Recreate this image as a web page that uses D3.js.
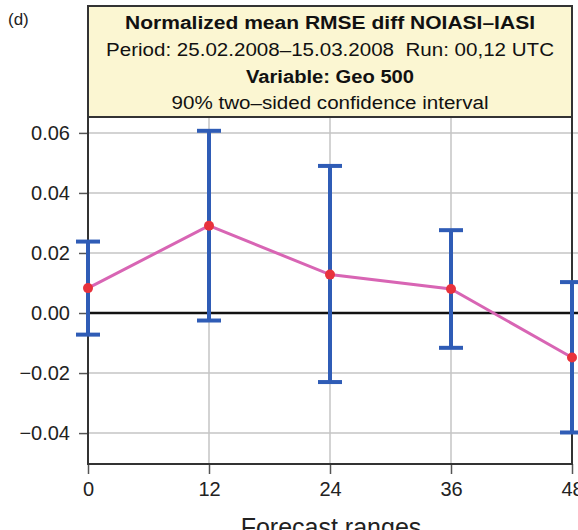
<!DOCTYPE html>
<html>
<head>
<meta charset="utf-8">
<script src="https://cdn.jsdelivr.net/npm/d3@7"></script>
<style>
  body { margin: 0; background: #fff; }
  svg { display: block; font-family: "Liberation Sans", Arial, sans-serif; }
</style>
</head>
<body>
<div id="chart"></div>
<script>
// forecast ranges (hours)
const ranges = [0, 12, 24, 36, 48];
const meanDiff = [0.0083, 0.0291, 0.0128, 0.0080, -0.0148];
const upper = [0.0238, 0.0607, 0.0490, 0.0276, 0.0103];
const lower = [-0.0072, -0.0025, -0.0230, -0.0116, -0.0398];
const yTicks = [-0.04, -0.02, 0.00, 0.02, 0.04, 0.06];
const titleLines = [
    "Normalized mean RMSE diff NOIASI\u2013IASI",
    "Period: 25.02.2008\u201315.03.2008  Run: 00,12 UTC",
    "Variable: Geo 500",
    "90% two\u2013sided confidence interval"
];

const width = 578, height = 530;
const plot = { left: 88, right: 572, top: 117, bottom: 464 };

const svg = d3.select("#chart").append("svg")
    .attr("width", width)
    .attr("height", height);

const x = d3.scaleLinear().domain([0, 48]).range([plot.left, plot.right]);
const y = d3.scaleLinear().domain([-0.0503, 0.0653]).range([plot.bottom, plot.top]);

// --- grid ---
svg.append("g")
    .selectAll("line")
    .data(yTicks)
    .join("line")
    .attr("x1", plot.left).attr("x2", width)
    .attr("y1", d => y(d)).attr("y2", d => y(d))
    .attr("stroke", "#c4c4c4")
    .attr("stroke-width", 1.5);

svg.append("g")
    .selectAll("line")
    .data(ranges.slice(1, -1))
    .join("line")
    .attr("x1", d => x(d)).attr("x2", d => x(d))
    .attr("y1", plot.top).attr("y2", plot.bottom)
    .attr("stroke", "#c4c4c4")
    .attr("stroke-width", 1.5);

// zero line
svg.append("line")
    .attr("x1", plot.left).attr("x2", width)
    .attr("y1", y(0)).attr("y2", y(0))
    .attr("stroke", "#111")
    .attr("stroke-width", 2.5);

// --- axes ---
const yAxis = d3.axisLeft(y)
    .tickValues(yTicks)
    .tickSize(9)
    .tickPadding(9)
    .tickFormat(d => d3.format(".2f")(d).replace("-", "\u2212"));

svg.append("g")
    .attr("transform", `translate(${plot.left},0)`)
    .call(yAxis)
    .call(g => g.select(".domain").remove())
    .call(g => g.selectAll("line").attr("stroke", "#555").attr("stroke-width", 1.5))
    .call(g => g.selectAll("text").attr("font-size", 20).attr("fill", "#222"));

const xAxis = d3.axisBottom(x)
    .tickValues(ranges)
    .tickSize(10)
    .tickPadding(8)
    .tickFormat(d3.format("d"));

svg.append("g")
    .attr("transform", `translate(0,${plot.bottom})`)
    .call(xAxis)
    .call(g => g.select(".domain").remove())
    .call(g => g.selectAll("line").attr("stroke", "#555").attr("stroke-width", 1.5))
    .call(g => g.selectAll("text").attr("font-size", 20).attr("fill", "#222"));

// frame (left, bottom, right)
svg.append("path")
    .attr("d", `M${plot.left},${plot.top}V${plot.bottom}H${plot.right}V${plot.top}`)
    .attr("fill", "none")
    .attr("stroke", "#333")
    .attr("stroke-width", 2);

// --- error bars ---
const capW = 12;
const bars = svg.append("g")
    .attr("stroke", "#2f5cb6")
    .attr("stroke-width", 4);

ranges.forEach((r, i) => {
    const cx = x(r);
    bars.append("line")
        .attr("x1", cx).attr("x2", cx)
        .attr("y1", y(upper[i])).attr("y2", y(lower[i]));
    [upper[i], lower[i]].forEach(v => {
        bars.append("line")
            .attr("x1", cx - capW).attr("x2", cx + capW)
            .attr("y1", y(v)).attr("y2", y(v));
    });
});

// --- mean line + points ---
const pts = ranges.map((r, i) => ({ r, v: meanDiff[i] }));

svg.append("path")
    .datum(pts)
    .attr("d", d3.line().x(d => x(d.r)).y(d => y(d.v)))
    .attr("fill", "none")
    .attr("stroke", "#d865b4")
    .attr("stroke-width", 3);

svg.append("g")
    .selectAll("circle")
    .data(pts)
    .join("circle")
    .attr("cx", d => x(d.r))
    .attr("cy", d => y(d.v))
    .attr("r", 5)
    .attr("fill", "#e8323c");

// --- title box ---
const box = { x: plot.left, y: 6, w: plot.right - plot.left, h: plot.top - 6 };
svg.append("rect")
    .attr("x", box.x).attr("y", box.y)
    .attr("width", box.w).attr("height", box.h)
    .attr("fill", "#fbf6d2")
    .attr("stroke", "#333")
    .attr("stroke-width", 2);

// the original font runs wider than Liberation Sans, so stretch each line
const titleY = [29, 56, 83, 109];
const titleW = [410, 448, 0, 317];
svg.append("g")
    .selectAll("text")
    .data(titleLines)
    .join("text")
    .attr("x", box.x + box.w / 2)
    .attr("y", (d, i) => titleY[i])
    .attr("text-anchor", "middle")
    .attr("font-size", 18)
    .attr("font-weight", (d, i) => (i === 0 || i === 2) ? "bold" : "normal")
    .attr("fill", "#111")
    .style("white-space", "pre")
    .text(d => d)
    .each(function (d, i) {
        if (titleW[i]) {
            d3.select(this).attr("textLength", titleW[i]).attr("lengthAdjust", "spacingAndGlyphs");
        } else {
            // bold line 3: scale like line 1
            const w = this.getComputedTextLength();
            d3.select(this).attr("textLength", w * 1.12).attr("lengthAdjust", "spacingAndGlyphs");
        }
    });

svg.append("text")
    .attr("x", 8).attr("y", 25)
    .attr("font-size", 17)
    .attr("fill", "#222")
    .text("(d)");

// x axis title (cut off at bottom edge, as in the original)
svg.append("text")
    .attr("x", 331)
    .attr("y", 536)
    .attr("text-anchor", "middle")
    .attr("font-size", 25)
    .attr("fill", "#222")
    .text("Forecast ranges");
</script>
</body>
</html>
